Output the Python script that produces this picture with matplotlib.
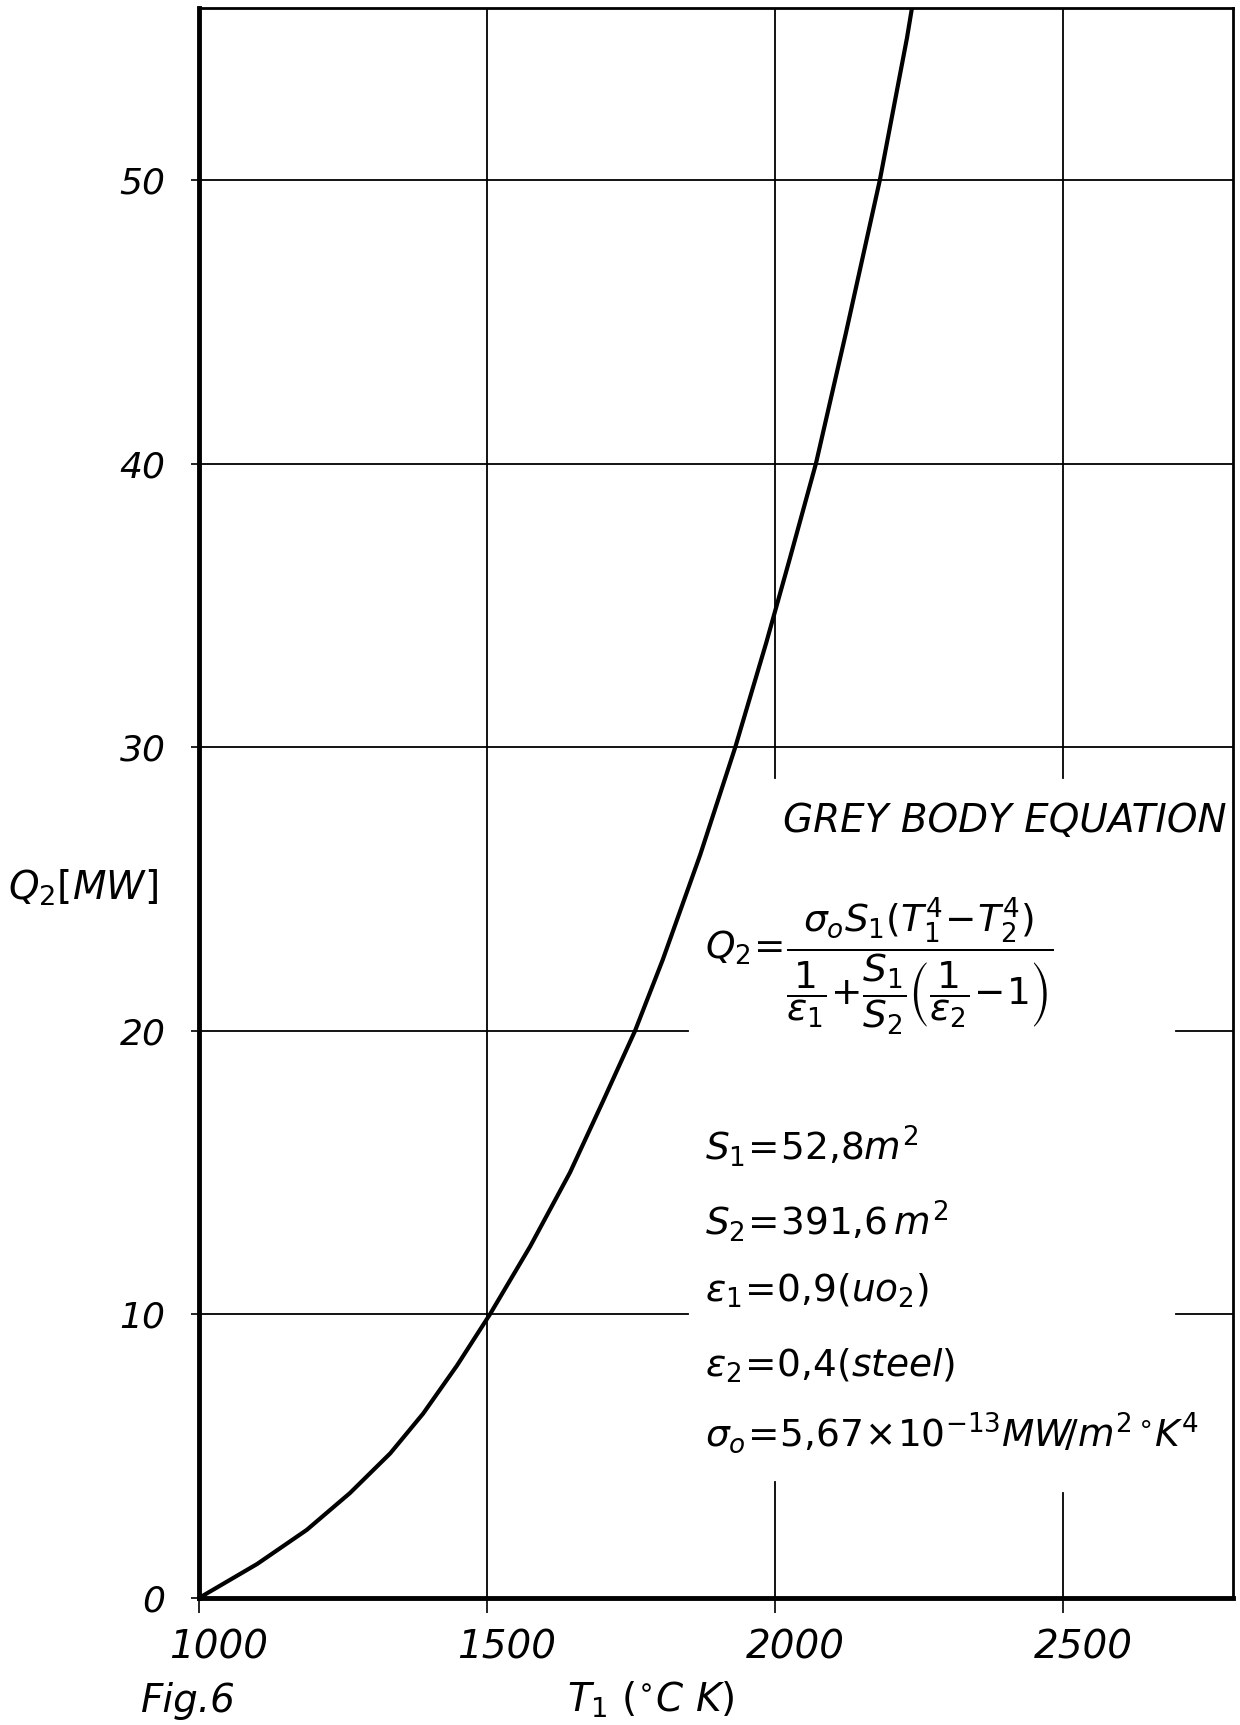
# ------------------------------------------------
# GREY BODY EQUATION - heat flow Q2 versus T1
# ------------------------------------------------
import numpy as np
import matplotlib.pyplot as plt
import matplotlib.transforms as mtransforms

# -----------------
# DATA
T1 = [1000, 1101, 1187, 1262, 1332, 1389, 1448, 1505, 1575, 1644, 1701,
      1757, 1805, 1870, 1931, 1985, 2025, 2071, 2123, 2182, 2229, 2238]
Q2 = [0.0, 1.2, 2.4, 3.7, 5.1, 6.5, 8.2, 10.0, 12.4, 15.0, 17.5,
      20.0, 22.5, 26.2, 30.0, 33.7, 36.6, 40.0, 44.6, 50.0, 55.0, 56.1]

xticks = [1000, 1500, 2000, 2500]
yticks = [0, 10, 20, 30, 40, 50]

title_txt = 'GREY BODY EQUATION'
formula = (r'$Q_2\!=\!\dfrac{\sigma_o S_1(T_1^4\!-\!T_2^4)}'
           r'{\dfrac{1}{\varepsilon_1}\!+\!\dfrac{S_1}{S_2}'
           r'\left(\dfrac{1}{\varepsilon_2}\!-\!1\right)}$')
params = [r'$S_1\!=\!52{,}8m^2$',
          r'$S_2\!=\!391{,}6\,m^2$',
          r'$\varepsilon_1\!=\!0{,}9(uo_2)$',
          r'$\varepsilon_2\!=\!0{,}4(steel)$',
          r'$\sigma_o\!=\!5{,}67\!\times\!10^{-13}MW\!/m^{2\circ}\!K^4$']
# -----------------

plt.rcParams['mathtext.fontset'] = 'dejavusans'
plt.rcParams['mathtext.default'] = 'it'

W, H = 1240, 1725
fig = plt.figure(figsize=(W/100, H/100), dpi=100)

# axes box in pixels: left 199, right 1233, top 8, bottom 1598
ax = fig.add_axes([199/W, 1-1598/H, (1233-199)/W, (1598-8)/H])

# grid (hand drawn, broken where the text sits)
gkw = dict(color='black', lw=1.3, zorder=1)
ax.axvline(1500, **gkw)
ax.axvline(2000, ymin=0, ymax=0.073, **gkw)
ax.axvline(2000, ymin=0.516, ymax=1, **gkw)
ax.axvline(2500, ymin=0, ymax=0.066, **gkw)
ax.axvline(2500, ymin=0.516, ymax=1, **gkw)
for yv in [30, 40, 50]:
    ax.axhline(yv, **gkw)
for yv in [10, 20]:
    ax.axhline(yv, xmin=0, xmax=0.473, **gkw)
    ax.axhline(yv, xmin=0.945, xmax=1, **gkw)

# the curve
ax.plot(T1, Q2, color='black', lw=3.0, solid_capstyle='round',
        solid_joinstyle='round', zorder=3)

ax.set_xlim(1000, 2795)
ax.set_ylim(0, 56.06)
ax.set_xticks(xticks)
ax.set_yticks(yticks)

ax.tick_params(axis='x', direction='out', length=11, width=1.2, pad=11,
               labelsize=28)
ax.tick_params(axis='y', direction='out', length=6, width=1.2, pad=18,
               labelsize=26)
offset = mtransforms.ScaledTranslation(0.20, 0, fig.dpi_scale_trans)
for lab in ax.get_xticklabels():
    lab.set_fontstyle('italic')
    lab.set_transform(lab.get_transform() + offset)
for lab in ax.get_yticklabels():
    lab.set_fontstyle('italic')

ax.spines['left'].set_linewidth(3.5)
ax.spines['bottom'].set_linewidth(3.5)
ax.spines['top'].set_linewidth(2.0)
ax.spines['right'].set_linewidth(2.0)

# ----------------
# TEXT
fig.text(1227/W, 1-832/H, title_txt, ha='right', va='baseline',
         fontsize=28, style='italic')
fig.text(705/W, 1-959/H, formula, ha='left', va='baseline', fontsize=27)
for txt, yb in zip(params, [1160, 1235, 1302, 1377, 1446]):
    fig.text(705/W, 1-yb/H, txt, ha='left', va='baseline', fontsize=27)

fig.text(8/W, 1-900/H, r'$Q_2[MW]$', ha='left', va='baseline', fontsize=28)
fig.text(567/W, 1-1712/H, r'$T_1\ (^{\circ}C\ K)$', ha='left',
         va='baseline', fontsize=28)
fig.text(141/W, 1-1712/H, 'Fig.6', ha='left', va='baseline', fontsize=28,
         style='italic')

fig.savefig('out.png', dpi=100)
